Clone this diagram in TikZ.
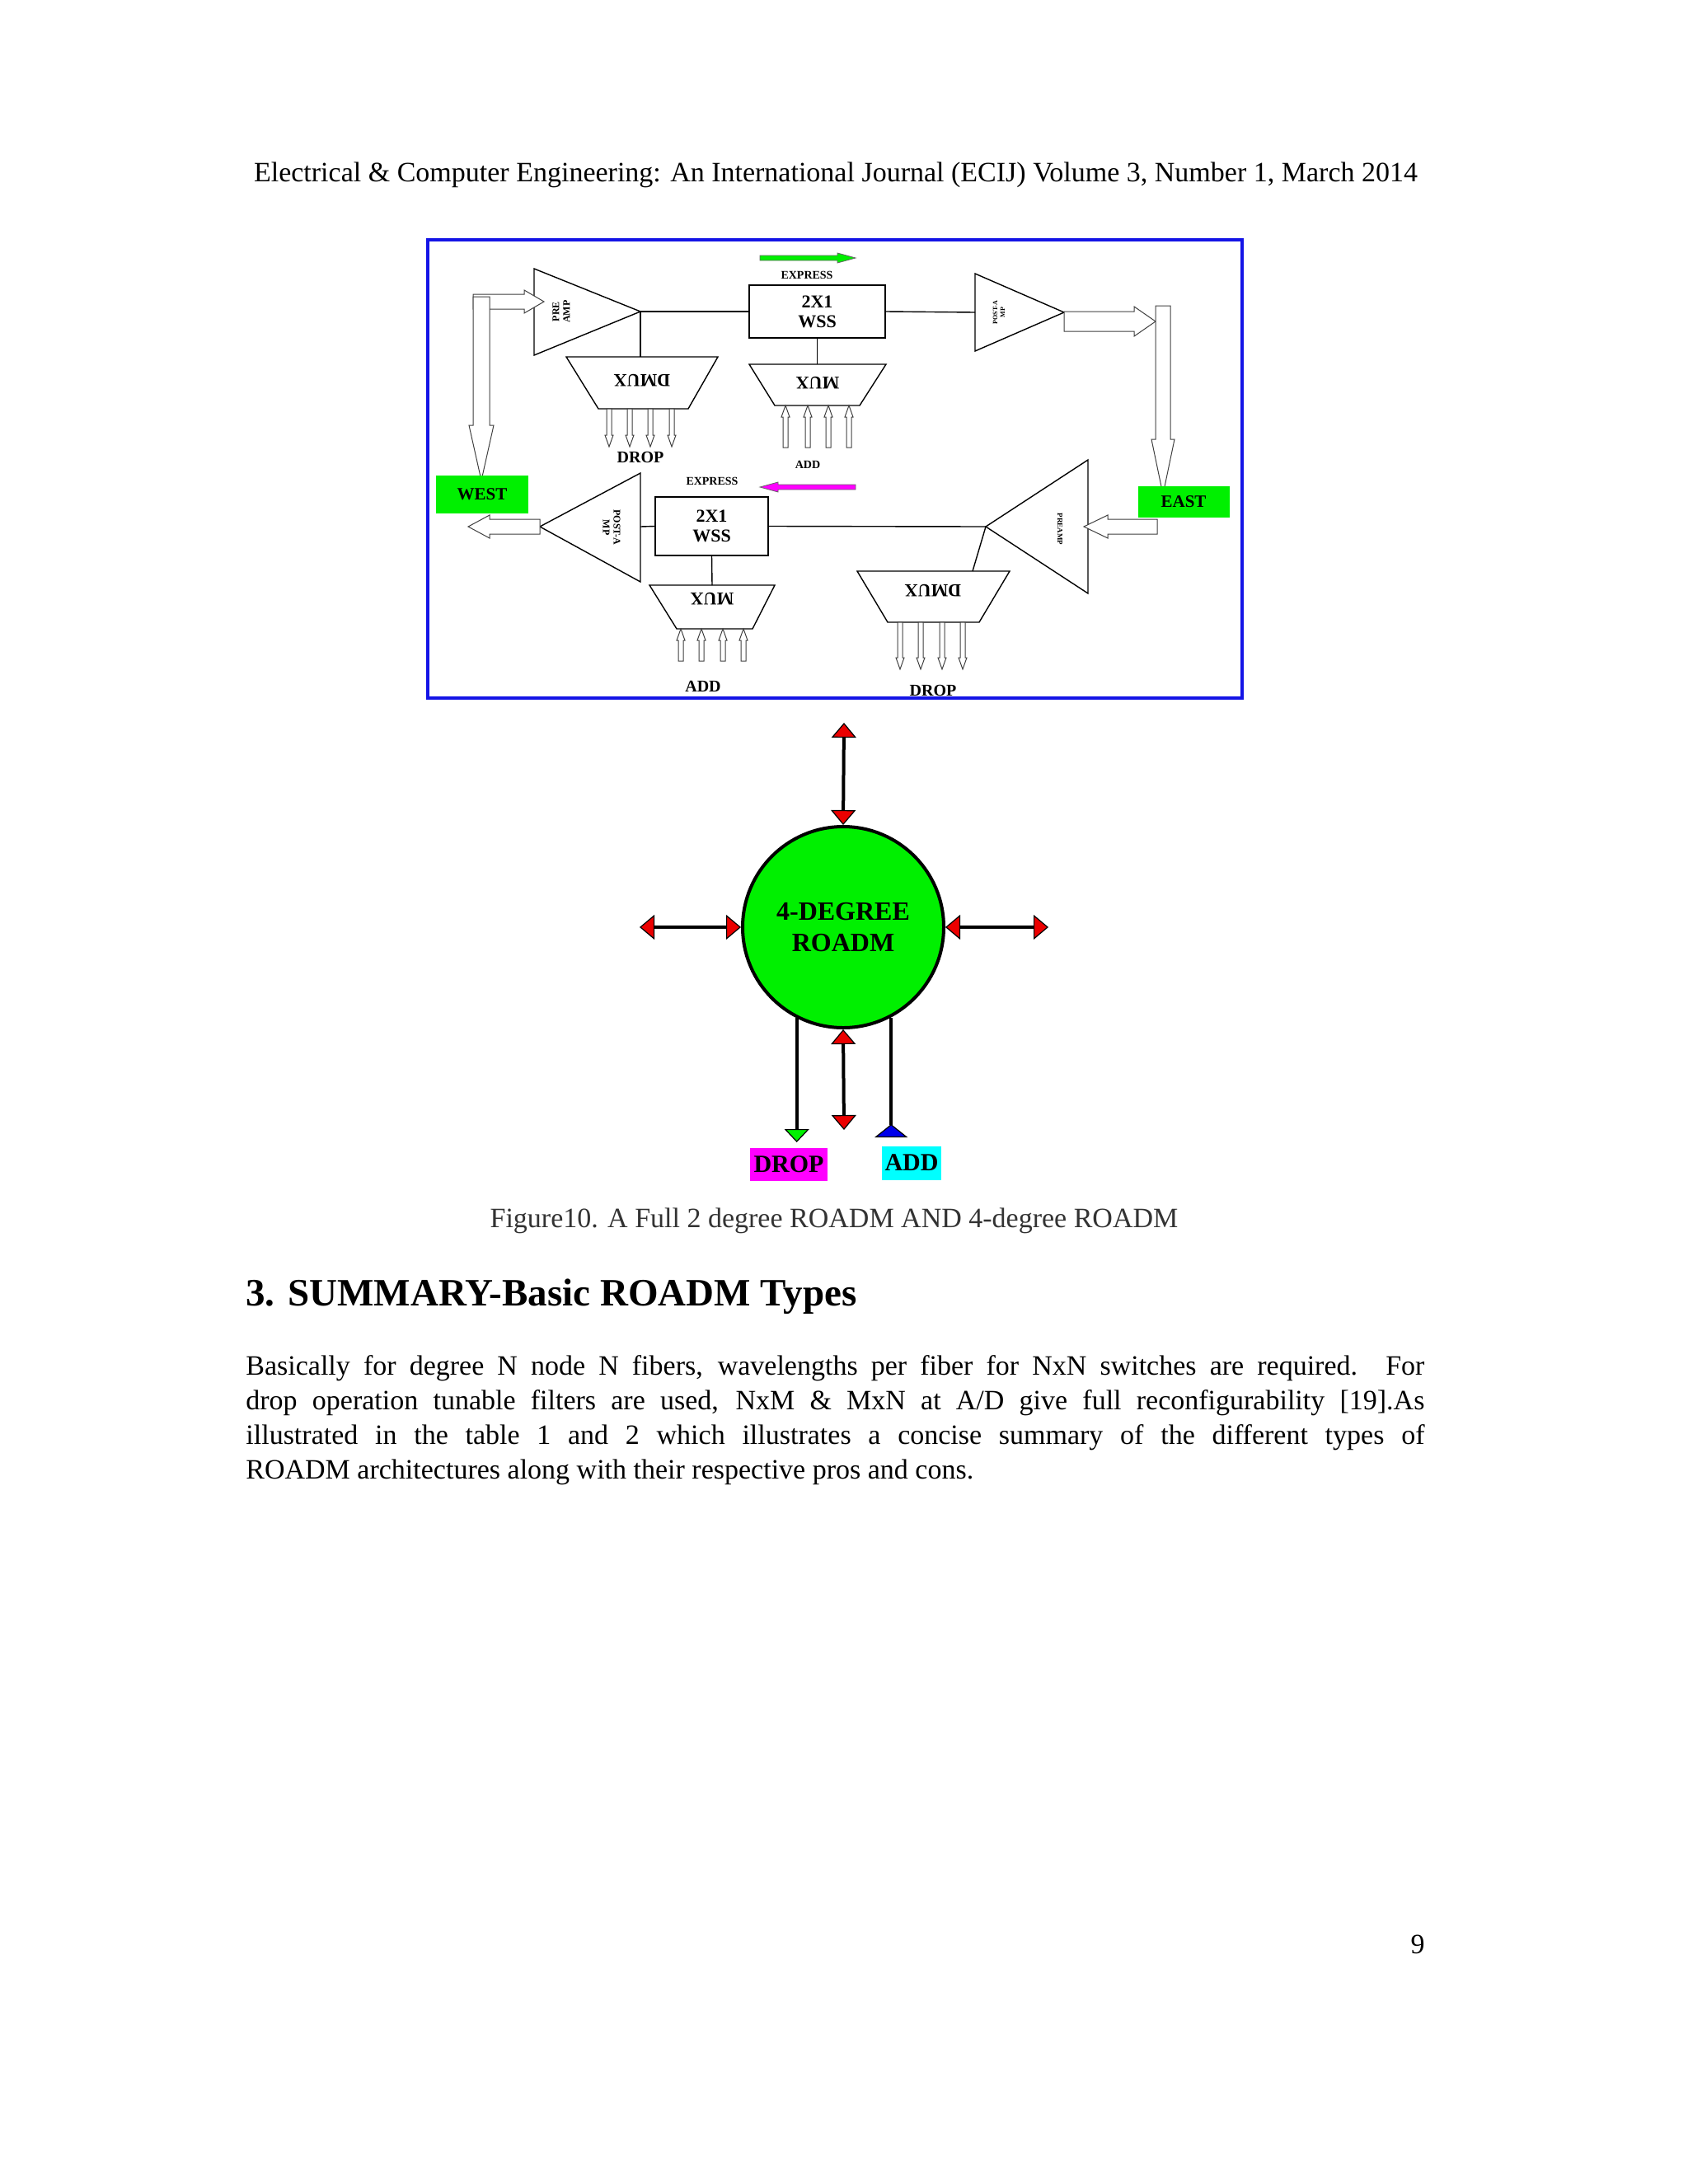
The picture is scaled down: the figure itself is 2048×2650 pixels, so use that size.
\documentclass[tikz,border=0pt]{standalone}
\usepackage{fontspec}
\setmainfont{Liberation Serif}
\usetikzlibrary{arrows.meta,calc}
\definecolor{lgreen}{RGB}{0,240,0}
\definecolor{bbox}{RGB}{20,20,230}
\definecolor{mag}{RGB}{255,0,255}
\definecolor{cya}{RGB}{0,255,255}
\definecolor{rd}{RGB}{235,0,0}
\definecolor{bl}{RGB}{0,0,235}
\newcommand\hav[6]{\draw[hol] ({#1-#5},#2) -- ({#1-#5},#3) -- ({#1-#6},#3) -- (#1,#4) -- ({#1+#6},#3) -- ({#1+#5},#3) -- ({#1+#5},#2) -- cycle;}
\newcommand\hah[6]{\draw[hol] (#2,{#1-#5}) -- (#3,{#1-#5}) -- (#3,{#1-#6}) -- (#4,#1) -- (#3,{#1+#6}) -- (#3,{#1+#5}) -- (#2,{#1+#5}) -- cycle;}
\tikzset{
 hol/.style={draw=black!75,fill=white,line width=0.5pt},
 blk/.style={draw=black,line width=0.7pt},
 dlab/.style={font=\bfseries\fontsize{11}{12}\selectfont,align=center,inner sep=0pt},
 small/.style={font=\bfseries\fontsize{7}{8}\selectfont,inner sep=0pt},
 mid/.style={font=\bfseries\fontsize{10}{11}\selectfont,inner sep=0pt},
 tagbox/.style={font=\bfseries\fontsize{10.5}{11}\selectfont,fill=lgreen,inner sep=0pt},
 rtip/.tip={Triangle[width=15pt,length=9pt,fill=rd,line width=0.6pt]},
 rl/.style={line width=2pt,{rtip}-{rtip}},
 body/.style={font=\fontsize{17}{21}\selectfont,inner sep=0pt}
}
\begin{document}
\begin{tikzpicture}[x=0.5pt,y=-0.5pt]
\useasboundingbox (0,0) rectangle (2048,2650);
\fill[white] (0,0) rectangle (2048,2650);
\node[body] (hdr) at (1014,212) {Electrical \& Computer Engineering: An International Journal (ECIJ) Volume 3, Number 1, March 2014};
% frame
\draw[bbox,line width=2pt] (519,291) rectangle (1507,847);
% top row
\draw[blk] (648,326) -- (777,378) -- (648,431) -- cycle;
\coordinate (tpa) at (777,378);
\node[blk,minimum width=82.5pt,minimum height=32pt,dlab] (twss) at (991.5,378) {2X1\\WSS};
\draw[blk] (1183,332) -- (1291,379) -- (1183,426) -- cycle;
\coordinate (tpo) at (1183,379);
\draw[blk] (tpa) -- (twss.west);
\draw[blk] (twss.east) -- (tpo);
\draw[blk] (687,433) -- (871,433) -- (835,496) -- (726,496) -- cycle;
\draw[blk] (tpa) -- (777,433);
\node[dlab,rotate=180] (tdm) at (779,462) {DMUX};
\draw[blk] (909,442) -- (1075,442) -- (1043,492) -- (940,492) -- cycle;
\draw[blk] (twss.south) -- (991.5,442);
\node[dlab,rotate=180] (tmx) at (992,465) {MUX};
\node[font=\bfseries\fontsize{6}{6.5}\selectfont,align=center,rotate=90,inner sep=0pt] (tpal) at (681,378) {PRE\\AMP};
\node[font=\bfseries\fontsize{4}{4.5}\selectfont,align=center,rotate=90,inner sep=0pt] (tpol) at (1212,379) {POST-A\\MP};
\foreach \x in {739,764,789,815}{\hav{\x}{496}{528}{542}{3}{5}}
\foreach \x in {953,980,1005,1030}{\hav{\x}{543}{506}{492}{3}{5}}
\node[mid] (tdrop) at (777,555) {DROP};
\node[small] (tadd) at (980,564) {ADD};
\node[small] (tex) at (979,334) {EXPRESS};
\draw[draw=black!60,fill=lgreen] (922,310) -- (1016,310) -- (1016,307) -- (1038,313) -- (1016,319) -- (1016,316) -- (922,316) -- cycle;
% west / east loops
\hah{366}{574}{636}{660}{9}{14}
\hav{584}{360}{516}{583}{10}{15}
\hah{390}{1291}{1376}{1402}{12}{18}
\hav{1411}{371}{533}{600}{9}{14}
\node[tagbox,minimum width=56pt,minimum height=23pt] (west) at (585,600) {WEST};
\node[tagbox,minimum width=55.5pt,minimum height=19pt] (east) at (1436,609) {EAST};
% bottom row
\draw[blk] (1320,558) -- (1196,639) -- (1320,720) -- cycle;
\coordinate (bpa) at (1196,639);
\node[blk,minimum width=68.5pt,minimum height=35.5pt,dlab] (bwss) at (863.5,638.5) {2X1\\WSS};
\draw[blk] (777,574) -- (655,639) -- (777,706) -- cycle;
\draw[blk] (bwss.east) -- (bpa);
\draw[blk] (bwss.west) -- (777,639);
\hah{639}{1404}{1344}{1315}{9}{14}
\hah{639}{655}{594}{568}{9}{14}
\node[small] (bex) at (864,584) {EXPRESS};
\draw[draw=black!60,fill=mag] (1038,588) -- (944,588) -- (944,585) -- (922,591) -- (944,597) -- (944,594) -- (1038,594) -- cycle;
\node[font=\bfseries\fontsize{6}{6.5}\selectfont,align=center,rotate=-90,inner sep=0pt] (bpol) at (742,640) {POST-A\\MP};
\node[font=\bfseries\fontsize{4.5}{5}\selectfont,rotate=-90,inner sep=0pt] (bpal) at (1286,642) {PREAMP};
\draw[blk] (788,710) -- (940,710) -- (913,763) -- (821,763) -- cycle;
\draw[blk] (bwss.south) -- (864,710);
\node[dlab,rotate=180] (bmx) at (864,727) {MUX};
\foreach \x in {826,851,877,902}{\hav{\x}{802}{777}{763}{3}{5}}
\node[mid] (badd) at (853,833) {ADD};
\draw[blk] (1040,693) -- (1225,693) -- (1188,755) -- (1077,755) -- cycle;
\draw[blk] (bpa) -- (1180,693);
\node[dlab,rotate=180] (bdm) at (1132,717) {DMUX};
\foreach \x in {1092,1117,1143,1168}{\hav{\x}{755}{798}{812}{3}{5}}
\node[mid] (bdrop) at (1132,838) {DROP};
% 4-degree
\node[circle,draw=black,line width=2pt,fill=lgreen,minimum size=122pt,inner sep=0pt,align=center,font=\bfseries\fontsize{16}{19}\selectfont] (circ) at (1023,1125) {4-DEGREE\\ROADM};
\coordinate (tt) at (1024,877);
\draw[rl] (tt) -- (circ.north);
\coordinate (lt) at (776,1125);
\draw[rl] (lt) -- (circ.west);
\coordinate (rt) at (1272,1125);
\draw[rl] (circ.east) -- (rt);
\coordinate (bt) at (1024,1371);
\draw[rl] (circ.south) -- (bt);
\coordinate (de) at (967,1386);
\draw[line width=2pt,-{Triangle[width=15pt,length=8pt,fill=lgreen,line width=0.6pt]}] (circ.-117) -- (circ.-117 |- de);
\coordinate (ae) at (1080,1380);
\draw[line width=2pt,{Triangle[width=20pt,length=8pt,fill=bl,line width=0.6pt,reversed]}-] (circ.-62 |- ae) -- (circ.-62);
\node[fill=mag,minimum width=47pt,minimum height=20pt,inner sep=0pt,font=\bfseries\fontsize{15}{16}\selectfont] (dropb) at (957,1413) {DROP};
\node[fill=cya,minimum width=36pt,minimum height=20.5pt,inner sep=0pt,font=\bfseries\fontsize{15}{16}\selectfont] (addb) at (1106,1411) {ADD};
% text
\node[body,text=black!80] (cap) at (1012,1481) {Figure10. A Full 2 degree ROADM AND 4-degree ROADM};
\node[font=\bfseries\fontsize{23.5}{26}\selectfont,anchor=west,inner sep=0pt] (sec) at (298,1573) {3. SUMMARY-Basic ROADM Types};
\node[body,anchor=north west,text width=715pt,align=justify] (par) at (298,1644) {Basically for degree N node N fibers, wavelengths per fiber for NxN switches are required. For\linebreak drop operation tunable filters are used, NxM \& MxN at A/D give full reconfigurability [19].As\linebreak illustrated in the table 1 and 2 which illustrates a concise summary of the different types of\linebreak ROADM architectures along with their respective pros and cons.};
\node[body] (pg) at (1720,2359) {9};
\end{tikzpicture}
\end{document}
